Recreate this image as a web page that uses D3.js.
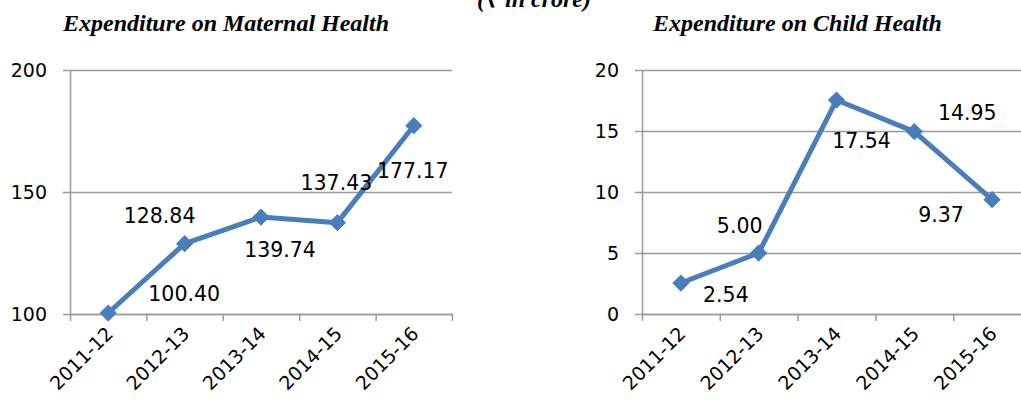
<!DOCTYPE html>
<html lang="en">
  <head>
    <meta charset="utf-8">
    <title>Expenditure on Maternal and Child Health</title>
    <script src="https://cdn.jsdelivr.net/npm/d3@7"></script>
    <style>
      body { margin: 0; background: #fff; }
      .title { font-family: "Liberation Serif", serif; font-weight: bold; font-style: italic; font-size: 24px; }
      .tick text, .lbl, .val { font-family: "DejaVu Sans", sans-serif; fill: #000; }
    </style>
  </head>
  <body>
    <script>
      var years = ["2011-12", "2012-13", "2013-14", "2014-15", "2015-16"];
      var maternal = [100.40, 128.84, 139.74, 137.43, 177.17];
      var child = [2.54, 5.00, 17.54, 14.95, 9.37];
      var maternalTicks = [100, 150, 200];
      var childTicks = [0, 5, 10, 15, 20];

      // where each value label sits relative to its point (as in the source)
      var maternalLabelOff = [[76, -12], [-25, -21], [19, 40], [-1, -33], [-1, 52]];
      var childLabelOff = [[45, 19], [-19, -20], [25, 48], [53, -12], [-51, 22]];

      var w = 1021, h = 403;
      var plotTop = 70, plotBottom = 314;
      var blue = "#4A7EBB", grid = "#9a9a9a";

      var svg = d3.select("body").append("svg")
        .attr("width", w)
        .attr("height", h);

      svg.append("text")
        .attr("class", "title")
        .attr("x", 534)
        .attr("y", 7)
        .attr("text-anchor", "middle")
        .text("(₹ in crore)");

      function drawChart(opt) {
        var x = d3.scaleBand().domain(years).range([opt.left, opt.right]);
        var xEdge = d3.scaleLinear().domain([0, years.length]).range([opt.left, opt.right]);
        var y = d3.scaleLinear().domain(opt.yDomain).range([plotBottom, plotTop]);

        svg.append("text")
          .attr("class", "title")
          .attr("x", opt.titleX)
          .attr("y", 31)
          .text(opt.title);

        // y axis with gridlines
        var gy = svg.append("g")
          .attr("transform", "translate(" + opt.left + ",0)")
          .call(d3.axisLeft(y).tickValues(opt.ticks).tickSize(-(opt.right - opt.left)).tickSizeOuter(0).tickPadding(23));
        gy.select(".domain").attr("stroke", grid).attr("stroke-width", 1.5);
        gy.selectAll(".tick line").attr("x1", -7).attr("stroke", grid).attr("stroke-width", 1.5);
        gy.selectAll(".tick text").attr("font-size", "19px");

        // x axis, ticks on category edges
        var gx = svg.append("g")
          .attr("transform", "translate(0," + plotBottom + ")")
          .call(d3.axisBottom(xEdge).tickValues(d3.range(years.length + 1)).tickFormat("").tickSize(7).tickSizeOuter(0));
        gx.select(".domain").attr("stroke", grid).attr("stroke-width", 1.5);
        gx.selectAll(".tick line").attr("stroke", grid).attr("stroke-width", 1.5);

        svg.selectAll(null)
          .data(years)
          .enter()
          .append("text")
          .attr("class", "lbl")
          .attr("font-size", "19px")
          .attr("text-anchor", "end")
          .attr("transform", function (d) {
            return "translate(" + (x(d) + x.bandwidth() / 2 + 6) + "," + (plotBottom + 21) + ") rotate(-45)";
          })
          .text(function (d) { return d; });

        var pts = opt.values.map(function (v, i) {
          return { x: x(years[i]) + x.bandwidth() / 2, y: y(v), v: v, off: opt.off[i] };
        });

        svg.append("path")
          .datum(pts)
          .attr("fill", "none")
          .attr("stroke", blue)
          .attr("stroke-width", 5)
          .attr("stroke-linejoin", "round")
          .attr("d", d3.line().x(function (d) { return d.x; }).y(function (d) { return d.y; }));

        svg.selectAll(null)
          .data(pts)
          .enter()
          .append("path")
          .attr("fill", blue)
          .attr("transform", function (d) { return "translate(" + d.x + "," + d.y + ")"; })
          .attr("d", d3.symbol().type(d3.symbolDiamond2).size(190));

        svg.selectAll(null)
          .data(pts)
          .enter()
          .append("text")
          .attr("class", "val")
          .attr("font-size", "20.5px")
          .attr("text-anchor", "middle")
          .attr("x", function (d) { return d.x + d.off[0]; })
          .attr("y", function (d) { return d.y + d.off[1]; })
          .text(function (d) { return d.v.toFixed(2); });
      }

      drawChart({
        title: "Expenditure on Maternal Health", titleX: 63,
        left: 70, right: 452, yDomain: [100, 200], ticks: maternalTicks,
        values: maternal, off: maternalLabelOff
      });

      drawChart({
        title: "Expenditure on Child Health", titleX: 653,
        left: 642, right: 1031, yDomain: [0, 20], ticks: childTicks,
        values: child, off: childLabelOff
      });
    </script>
  </body>
</html>
